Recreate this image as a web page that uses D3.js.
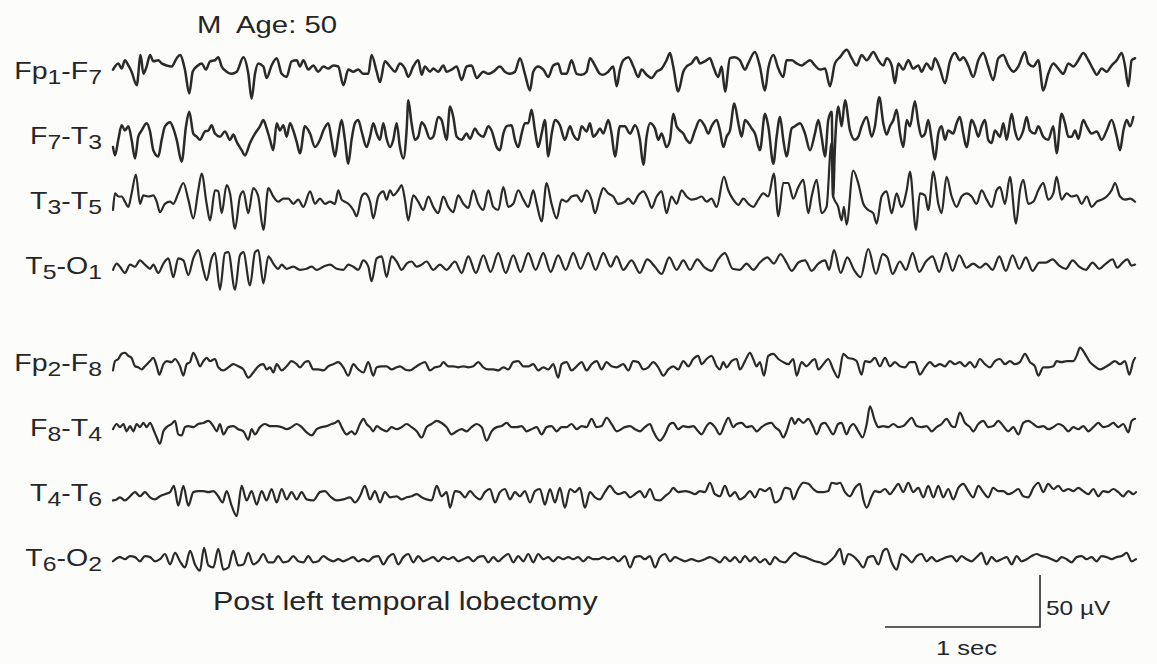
<!DOCTYPE html>
<html>
<head>
<meta charset="utf-8">
<script src="https://cdn.jsdelivr.net/npm/d3@7"></script>
<style>
  html, body { margin: 0; padding: 0; background: #fcfcfb; }
  svg { display: block; }
  text { font-family: "Liberation Sans", Arial, Helvetica, sans-serif; fill: #262626; white-space: pre; }
</style>
</head>
<body>
<svg id="eeg" width="1157" height="664"></svg>
<script>
// Bipolar montage, left chain then right chain. Each trace is a list of
// turning points: [time in ms, amplitude in µV].
const channelNames = ["Fp1-F7", "F7-T3", "T3-T5", "T5-O1", "Fp2-F8", "F8-T4", "T4-T6", "T6-O2"];
const channelLabelParts = [
  ["Fp", "1", "-F", "7"], ["F", "7", "-T", "3"], ["T", "3", "-T", "5"], ["T", "5", "-O", "1"],
  ["Fp", "2", "-F", "8"], ["F", "8", "-T", "4"], ["T", "4", "-T", "6"], ["T", "6", "-O", "2"]
];
const channelSlots = [0, 1, 2, 3, 4.5, 5.5, 6.5, 7.5];

const fp1F7 = [[0,2],[34,8],[56,3],[77,11],[99,6],[120,0],[153,-13],[178,16],[196,-2],[217,5],[239,16],[260,10],[292,11],[314,8],[346,6],[378,5],[411,13],[432,16],[464,2],[492,-21],[514,0],[540,5],[572,8],[600,2],[626,10],[658,11],[679,14],[701,5],[733,0],[765,-2],[798,0],[841,14],[873,-2],[894,-26],[916,-2],[937,8],[970,5],[991,-6],[1023,6],[1056,13],[1088,-2],[1120,-5],[1152,10],[1185,11],[1206,5],[1228,11],[1260,2],[1292,6],[1324,0],[1357,5],[1389,3],[1421,6],[1453,5],[1486,-13],[1518,2],[1550,0],[1582,2],[1615,-2],[1647,-2],[1668,16],[1701,0],[1722,-10],[1754,10],[1787,5],[1819,0],[1851,8],[1883,3],[1905,-5],[1937,5],[1969,11],[1991,-3],[2012,5],[2045,0],[2066,3],[2098,0],[2131,6],[2152,0],[2184,2],[2217,5],[2249,-8],[2281,5],[2313,6],[2346,-6],[2389,0],[2421,-2],[2453,0],[2496,5],[2528,0],[2561,-2],[2593,0],[2625,13],[2657,-2],[2690,-18],[2711,0],[2743,5],[2776,2],[2808,-5],[2840,6],[2872,8],[2894,-2],[2926,-2],[2958,11],[2991,-2],[3023,-3],[3055,0],[3077,13],[3109,6],[3141,-2],[3163,-3],[3195,0],[3227,5],[3249,-14],[3270,2],
  [3292,11],[3325,14],[3357,5],[3388,-5],[3410,2],[3442,-3],[3474,-6],[3507,0],[3539,3],[3571,11],[3593,18],[3614,5],[3646,-19],[3679,0],[3700,5],[3732,8],[3764,14],[3786,8],[3818,10],[3851,13],[3872,5],[3904,-5],[3926,5],[3948,-19],[3980,13],[4012,14],[4044,11],[4077,2],[4098,8],[4141,19],[4173,5],[4206,-18],[4227,3],[4260,16],[4292,3],[4324,-5],[4345,11],[4378,11],[4410,8],[4442,6],[4464,8],[4496,11],[4528,6],[4560,2],[4593,3],[4625,-14],[4657,8],[4690,14],[4733,21],[4765,13],[4797,6],[4829,16],[4862,11],[4905,19],[4937,11],[4969,6],[4991,13],[5023,6],[5044,-11],[5066,8],[5098,2],[5130,11],[5162,3],[5195,6],[5216,0],[5248,8],[5281,2],[5302,13],[5334,3],[5367,-11],[5399,10],[5431,18],[5463,11],[5485,14],[5517,6],[5549,-5],[5582,11],[5614,18],[5646,5],[5678,-8],[5711,13],[5743,16],[5775,6],[5808,0],[5840,5],[5883,19],[5904,8],[5937,5],[5969,11],[6001,-18],[6033,-2],[6066,8],[6098,3],[6130,-2],[6163,8],[6195,5],[6227,11],[6259,18],[6292,11],[6324,2],[6346,-3],[6378,3],[6410,0],[6442,6],[6475,11],[6507,18],[6528,6],[6550,-14],[6571,11],[6593,13]];

const f7T3 = [[0,-10],[13,-18],[34,-3],[56,11],[77,6],[99,10],[120,-3],[142,-21],[163,0],[185,6],[217,13],[239,5],[260,-13],[292,-19],[314,-3],[335,10],[368,14],[389,8],[411,-3],[443,-24],[471,10],[492,24],[518,3],[540,0],[561,-3],[593,5],[615,6],[636,11],[658,3],[690,0],[722,5],[755,-3],[776,2],[798,-5],[830,-13],[851,-18],[884,-6],[916,3],[948,10],[970,16],[991,8],[1013,-3],[1034,-13],[1056,13],[1077,6],[1099,11],[1120,0],[1142,13],[1163,6],[1185,-5],[1206,-16],[1238,10],[1271,3],[1303,-10],[1335,-3],[1357,6],[1389,13],[1410,-3],[1432,-19],[1453,0],[1475,16],[1496,-3],[1518,-26],[1539,-3],[1561,13],[1582,16],[1604,5],[1636,-10],[1658,0],[1679,13],[1701,3],[1722,-3],[1744,13],[1765,-2],[1787,-10],[1808,-3],[1830,13],[1851,-10],[1873,-21],[1894,6],[1905,35],[1926,13],[1948,-3],[1969,0],[1991,14],[2012,10],[2045,-2],[2066,0],[2098,19],[2120,16],[2152,-3],[2174,29],[2195,19],[2217,0],[2249,-3],[2281,3],[2303,-2],[2335,8],[2356,3],[2389,0],[2421,10],[2442,6],[2475,-10],[2496,-13],[2518,3],[2539,10],[2571,11],[2593,-3],[2614,-10],[2636,3],[2657,13],[2679,13],[2700,26],[2722,6],[2743,-10],[2765,3],[2786,16],[2808,-19],[2829,2],[2851,16],[2883,11],[2915,-3],[2948,10],[2969,2],[3001,-3],[3023,10],[3055,5],[3077,13],[3098,0],[3120,3],[3141,8],[3163,3],[3195,16],[3216,3],[3238,-19],[3270,10],
  [3302,10],[3335,3],[3367,11],[3399,-3],[3421,-27],[3442,0],[3464,13],[3496,8],[3517,-3],[3539,3],[3571,-10],[3593,-3],[3614,22],[3636,10],[3657,6],[3679,3],[3700,-3],[3722,-6],[3754,6],[3786,16],[3818,10],[3840,3],[3861,10],[3894,16],[3915,6],[3937,-10],[3958,0],[3980,6],[4008,32],[4034,13],[4055,0],[4077,16],[4098,13],[4120,8],[4141,3],[4173,-13],[4206,22],[4227,10],[4260,-26],[4281,0],[4303,19],[4324,-3],[4345,-19],[4378,8],[4399,10],[4432,13],[4464,3],[4496,-13],[4528,3],[4550,16],[4571,0],[4593,-19],[4614,16],[4636,24],[4645,-58],[4657,-10],[4679,29],[4700,10],[4722,35],[4754,6],[4786,-3],[4808,0],[4829,10],[4862,19],[4894,0],[4915,10],[4943,38],[4969,13],[4990,2],[5012,10],[5034,16],[5055,26],[5077,3],[5098,-10],[5120,16],[5141,10],[5173,34],[5195,13],[5216,0],[5238,3],[5259,16],[5281,-3],[5302,-22],[5324,3],[5345,10],[5367,-3],[5388,6],[5420,3],[5442,13],[5463,19],[5485,3],[5506,-10],[5539,16],[5560,10],[5582,0],[5603,10],[5625,16],[5646,-3],[5668,-6],[5689,6],[5722,0],[5743,13],[5765,-3],[5797,22],[5818,6],[5840,-3],[5872,6],[5894,19],[5915,6],[5947,3],[5969,10],[6001,0],[6033,-3],[6066,10],[6087,-16],[6119,22],[6141,13],[6163,0],[6184,0],[6206,6],[6227,-2],[6259,16],[6281,10],[6313,3],[6346,5],[6378,-3],[6410,6],[6442,16],[6475,0],[6496,-13],[6518,6],[6539,16],[6561,10],[6582,19]];

const t3T5 = [[0,-8],[13,8],[34,5],[56,5],[77,0],[99,-5],[120,8],[148,26],[174,-2],[196,6],[228,5],[260,6],[282,0],[303,-10],[335,-2],[368,0],[389,-2],[421,8],[454,18],[486,2],[518,-16],[550,11],[572,27],[604,-2],[626,-18],[658,11],[679,10],[701,-11],[733,16],[755,8],[787,-26],[819,5],[841,10],[873,-11],[905,13],[937,5],[970,-27],[1002,13],[1034,5],[1066,0],[1099,3],[1131,3],[1163,-2],[1195,2],[1228,-5],[1271,10],[1303,-2],[1335,3],[1367,-2],[1400,0],[1432,-2],[1453,11],[1475,2],[1496,0],[1518,-2],[1550,-8],[1572,-14],[1604,5],[1625,8],[1658,0],[1679,-16],[1711,5],[1744,10],[1765,2],[1787,11],[1808,6],[1840,11],[1862,16],[1883,2],[1905,-18],[1937,6],[1969,0],[2002,-8],[2034,5],[2066,-5],[2098,-11],[2131,5],[2163,-5],[2195,-10],[2227,6],[2260,-2],[2292,-6],[2324,11],[2356,-2],[2389,-8],[2421,11],[2453,-5],[2485,-8],[2518,14],[2550,-5],[2582,-2],[2614,11],[2647,2],[2679,-5],[2711,11],[2733,-2],[2765,-19],[2797,18],[2829,-2],[2862,-16],[2894,2],[2926,0],[2958,5],[2991,6],[3023,0],[3055,11],[3087,2],[3109,-11],[3141,5],[3163,13],[3195,8],[3227,5],[3259,-2],
  [3302,0],[3324,3],[3356,-2],[3388,6],[3421,10],[3453,2],[3474,-6],[3507,5],[3539,10],[3571,-11],[3603,5],[3636,-2],[3668,11],[3700,5],[3732,2],[3765,3],[3797,5],[3829,0],[3861,3],[3894,-5],[3941,24],[3969,11],[4001,2],[4034,-3],[4066,3],[4098,-2],[4130,-5],[4163,2],[4195,8],[4227,5],[4263,27],[4292,-14],[4324,18],[4356,18],[4388,3],[4421,14],[4453,21],[4485,-11],[4507,5],[4539,21],[4571,-11],[4603,-5],[4634,56],[4646,5],[4678,-5],[4700,-18],[4715,-5],[4732,-22],[4775,30],[4807,18],[4840,-2],[4872,-8],[4904,-11],[4926,-21],[4958,5],[4990,10],[5023,-11],[5055,8],[5087,-5],[5120,11],[5141,29],[5180,-27],[5205,8],[5238,6],[5259,-8],[5292,29],[5324,-2],[5345,-11],[5377,24],[5410,5],[5442,-5],[5474,5],[5506,8],[5539,5],[5571,-2],[5603,11],[5636,2],[5668,-5],[5700,11],[5722,14],[5754,-2],[5786,24],[5825,-21],[5851,11],[5872,21],[5904,-2],[5937,0],[5969,11],[6001,18],[6033,2],[6066,8],[6087,24],[6119,2],[6152,8],[6184,5],[6216,6],[6249,-2],[6281,5],[6313,-5],[6346,0],[6378,2],[6410,5],[6442,11],[6464,18],[6496,5],[6528,2],[6561,3],[6593,0]];

const t5O1 = [[0,-3],[24,3],[45,0],[77,-6],[110,2],[142,0],[174,6],[206,2],[239,-2],[260,2],[292,-6],[325,3],[357,8],[389,-10],[421,8],[454,6],[486,-8],[518,8],[550,16],[583,-3],[604,-13],[636,8],[658,13],[690,-22],[722,13],[744,14],[787,-22],[819,11],[841,14],[884,-18],[916,14],[937,16],[970,-16],[1002,10],[1034,3],[1066,-2],[1088,2],[1120,-2],[1163,0],[1206,-3],[1249,-2],[1281,0],[1314,-3],[1357,0],[1400,2],[1443,-2],[1486,-3],[1518,2],[1550,0],[1582,-3],[1615,6],[1647,0],[1668,-14],[1701,8],[1733,10],[1765,-10],[1797,10],[1830,5],[1862,-3],[1894,3],[1926,5],[1959,0],[1991,2],[2023,5],[2066,-3],[2109,2],[2152,-3],[2206,5],[2249,-6],[2292,10],[2341,-6],[2389,11],[2436,-5],[2485,13],[2533,-6],[2582,11],[2629,-5],[2679,13],[2726,-3],[2776,13],[2823,-5],[2872,11],[2920,-3],[2969,13],[3016,-2],[3066,13],[3113,-3],[3163,13],[3210,0],[3249,10],
  [3292,-3],[3345,6],[3399,-6],[3446,7],[3496,0],[3539,-7],[3588,9],[3636,-3],[3679,6],[3722,-3],[3769,7],[3818,-1],[3861,-4],[3904,7],[3947,13],[3997,-2],[4044,-3],[4087,3],[4130,-3],[4173,4],[4221,9],[4263,3],[4306,12],[4345,4],[4378,-4],[4421,4],[4464,6],[4507,-4],[4550,3],[4593,6],[4620,-3],[4651,16],[4694,-6],[4737,9],[4780,-3],[4823,-10],[4872,17],[4922,-7],[4965,12],[4995,9],[5029,-7],[5076,5],[5115,-3],[5158,13],[5201,-5],[5244,5],[5287,10],[5330,-5],[5373,13],[5416,-4],[5459,11],[5506,-1],[5549,3],[5592,-1],[5631,3],[5674,-3],[5717,10],[5760,-4],[5803,11],[5846,-2],[5889,9],[5932,-4],[5975,4],[6018,4],[6061,7],[6104,1],[6147,-2],[6190,6],[6233,0],[6276,-3],[6319,4],[6362,-2],[6405,3],[6448,7],[6478,-1],[6513,4],[6543,7],[6571,1],[6593,2]];

const fp2F8 = [[0,-6],[13,3],[34,5],[56,10],[77,11],[99,8],[120,6],[142,-2],[163,-3],[185,-5],[206,-2],[239,3],[260,6],[282,-2],[299,-10],[325,0],[346,3],[378,2],[400,5],[432,-2],[454,-11],[475,0],[497,2],[518,11],[540,5],[561,-2],[583,3],[604,6],[626,3],[658,5],[679,-3],[712,-6],[744,-3],[776,0],[808,-2],[841,-5],[873,-13],[905,-8],[937,-2],[970,0],[991,-5],[1013,-3],[1034,-8],[1056,0],[1088,-6],[1120,-2],[1152,3],[1185,0],[1206,-3],[1238,2],[1260,3],[1292,-5],[1324,-5],[1357,-6],[1389,-2],[1421,0],[1453,2],[1486,-3],[1518,-11],[1550,0],[1582,-5],[1615,-8],[1647,2],[1679,-11],[1701,-3],[1733,-2],[1765,-2],[1797,-5],[1830,-3],[1851,-2],[1883,-5],[1916,-6],[1948,-3],[1980,0],[2012,2],[2045,-6],[2077,-3],[2109,-2],[2131,2],[2163,-2],[2195,-2],[2227,-3],[2260,-2],[2292,-3],[2324,-2],[2356,2],[2389,-3],[2421,-5],[2453,-5],[2485,-6],[2518,-3],[2550,-5],[2582,2],[2614,3],[2647,-2],[2679,-2],[2711,0],[2743,-6],[2776,-3],[2808,-5],[2840,0],[2872,-13],[2894,0],[2926,2],[2958,-6],[2991,-2],[3023,2],[3055,-6],[3087,0],[3120,3],[3152,-5],[3184,2],[3216,-2],[3249,-3],
  [3292,0],[3324,-6],[3356,3],[3388,2],[3421,-5],[3453,-3],[3485,2],[3517,-3],[3550,-11],[3582,-5],[3614,-2],[3646,-5],[3679,3],[3711,-2],[3743,5],[3775,8],[3797,0],[3829,5],[3861,8],[3894,-2],[3915,-5],[3937,2],[3958,-3],[3990,3],[4023,5],[4044,-5],[4077,3],[4109,11],[4130,5],[4152,-2],[4173,2],[4199,-11],[4227,8],[4259,10],[4292,5],[4324,2],[4356,0],[4388,5],[4410,-11],[4442,2],[4474,-2],[4507,3],[4528,5],[4550,-5],[4582,0],[4614,5],[4646,-5],[4678,-13],[4711,10],[4743,6],[4775,5],[4797,3],[4829,-10],[4851,3],[4883,2],[4915,6],[4947,-2],[4980,6],[5012,-2],[5044,2],[5077,-2],[5109,-3],[5141,2],[5173,2],[5205,-10],[5238,-3],[5270,2],[5302,-2],[5334,0],[5367,-2],[5399,3],[5431,0],[5463,2],[5496,-2],[5528,2],[5560,-3],[5592,5],[5625,0],[5657,-3],[5689,3],[5721,5],[5754,0],[5786,3],[5818,0],[5850,2],[5883,10],[5915,2],[5947,-2],[5969,-11],[6001,-3],[6033,-3],[6066,-2],[6087,3],[6119,2],[6152,3],[6195,3],[6216,8],[6238,16],[6270,10],[6302,2],[6334,-2],[6367,-5],[6399,-3],[6431,0],[6463,3],[6496,0],[6528,3],[6556,-10],[6582,3],[6593,6]];

const f8T4 = [[0,0],[24,5],[45,2],[67,5],[88,-2],[110,3],[131,-2],[153,5],[174,2],[196,6],[217,2],[239,6],[260,0],[282,-8],[303,-14],[325,-2],[346,2],[378,5],[400,8],[421,-5],[443,-6],[464,2],[486,3],[518,2],[550,5],[583,6],[615,8],[647,3],[669,-2],[690,5],[712,-5],[744,2],[776,3],[808,0],[841,-2],[873,-10],[894,0],[916,-5],[948,2],[980,5],[1013,3],[1056,3],[1088,2],[1120,0],[1152,2],[1185,5],[1217,2],[1249,-3],[1281,-6],[1314,0],[1346,2],[1378,3],[1410,5],[1432,6],[1453,8],[1475,2],[1507,-5],[1539,-2],[1561,-5],[1593,5],[1615,10],[1636,5],[1658,2],[1679,-2],[1701,3],[1733,0],[1765,-2],[1797,2],[1830,0],[1862,2],[1894,5],[1926,2],[1959,-2],[1991,-8],[2023,2],[2055,5],[2088,8],[2120,6],[2152,2],[2184,-5],[2217,-2],[2249,0],[2281,-2],[2313,2],[2346,5],[2378,2],[2410,-11],[2442,-2],[2475,2],[2507,3],[2539,6],[2571,2],[2604,2],[2636,3],[2668,-2],[2700,0],[2733,2],[2765,-5],[2797,2],[2829,3],[2862,-2],[2894,2],[2926,2],[2958,5],[2991,0],[3023,3],[3055,2],[3087,10],[3120,2],[3152,3],[3184,11],[3216,5],[3249,-2],
  [3302,2],[3335,3],[3367,0],[3399,-2],[3431,2],[3464,5],[3485,-2],[3507,-8],[3528,-11],[3560,-5],[3593,5],[3614,6],[3646,0],[3679,3],[3711,2],[3743,3],[3775,-2],[3797,-5],[3829,3],[3851,6],[3883,2],[3915,-5],[3947,5],[3969,11],[4001,2],[4023,5],[4055,6],[4087,2],[4120,3],[4152,-2],[4184,2],[4216,5],[4248,6],[4270,2],[4302,-2],[4324,-8],[4345,-2],[4378,11],[4399,5],[4421,10],[4453,6],[4485,10],[4517,2],[4539,-5],[4571,5],[4593,6],[4614,2],[4646,-5],[4678,5],[4700,6],[4732,-5],[4754,2],[4775,5],[4808,-2],[4835,-8],[4862,5],[4883,22],[4915,8],[4937,2],[4969,3],[5001,2],[5034,5],[5066,2],[5098,3],[5130,8],[5152,11],[5184,3],[5216,2],[5248,3],[5281,-2],[5313,2],[5345,5],[5377,10],[5410,3],[5431,2],[5463,16],[5496,6],[5528,2],[5549,-2],[5582,5],[5614,8],[5646,2],[5678,3],[5711,8],[5743,3],[5775,-2],[5808,2],[5840,-5],[5872,6],[5904,8],[5937,5],[5969,2],[6001,3],[6033,0],[6066,2],[6098,5],[6130,3],[6163,-2],[6195,2],[6227,0],[6259,3],[6292,-2],[6324,2],[6356,6],[6388,2],[6420,3],[6453,6],[6485,2],[6517,5],[6550,-3],[6571,8],[6593,10]];

const t4T6 = [[0,-6],[24,-5],[45,-3],[77,-6],[110,-2],[142,2],[174,-2],[206,2],[239,-3],[271,-5],[303,-2],[335,0],[368,2],[393,8],[421,-11],[454,8],[486,-11],[518,2],[550,3],[583,3],[615,2],[647,3],[679,-2],[707,-8],[733,3],[765,-11],[798,-21],[830,8],[862,-6],[894,3],[927,-10],[959,3],[991,-6],[1023,5],[1056,-8],[1088,5],[1120,-5],[1152,2],[1185,-5],[1217,2],[1249,-5],[1292,-6],[1335,2],[1367,3],[1400,-2],[1443,-6],[1486,-5],[1529,-3],[1561,-8],[1593,-2],[1625,8],[1658,-5],[1690,3],[1722,-8],[1754,2],[1787,-3],[1830,-2],[1862,-5],[1894,-3],[1926,-2],[1959,0],[1991,-3],[2023,-5],[2055,-6],[2088,8],[2120,-2],[2152,2],[2174,-13],[2206,3],[2238,2],[2270,-3],[2303,3],[2335,-2],[2367,-5],[2399,2],[2432,5],[2464,-8],[2496,2],[2528,5],[2561,-5],[2593,2],[2625,-2],[2657,3],[2690,-8],[2722,3],[2754,5],[2786,-10],[2819,5],[2851,-8],[2883,6],[2915,-13],[2948,5],[2980,2],[3012,6],[3044,-13],[3077,2],[3109,-3],[3141,-5],[3173,2],[3206,8],[3238,2],[3259,0],
  [3302,2],[3335,-3],[3367,0],[3399,3],[3431,-3],[3464,5],[3496,-5],[3528,-6],[3560,-2],[3593,2],[3614,6],[3646,2],[3689,3],[3722,2],[3754,0],[3786,3],[3818,2],[3851,11],[3883,0],[3915,-2],[3947,8],[3980,-2],[4012,2],[4044,-5],[4077,-2],[4109,3],[4141,-3],[4173,5],[4206,3],[4238,6],[4270,-8],[4303,-5],[4335,6],[4367,5],[4389,-5],[4421,5],[4453,11],[4485,10],[4517,5],[4550,2],[4582,2],[4614,3],[4636,11],[4668,10],[4690,11],[4722,2],[4754,-2],[4786,6],[4818,10],[4840,-5],[4862,-13],[4894,-2],[4915,3],[4947,2],[4980,5],[5012,0],[5044,6],[5066,10],[5098,2],[5130,11],[5162,2],[5195,6],[5227,-3],[5259,8],[5292,-3],[5324,8],[5356,-3],[5388,5],[5420,-5],[5453,6],[5485,10],[5517,3],[5549,-3],[5582,8],[5614,2],[5646,-3],[5678,6],[5711,3],[5743,3],[5775,0],[5808,2],[5840,5],[5872,-2],[5904,-3],[5937,6],[5969,11],[6001,2],[6033,10],[6066,5],[6098,8],[6130,3],[6163,5],[6195,3],[6227,6],[6259,3],[6292,0],[6324,5],[6356,-2],[6388,3],[6420,2],[6453,5],[6485,2],[6517,-2],[6550,3],[6582,0],[6599,2]];

const t6O2 = [[0,-2],[45,2],[77,0],[110,3],[142,2],[174,-2],[206,3],[239,2],[271,-2],[303,0],[335,5],[368,-5],[400,6],[432,-2],[464,-8],[497,8],[529,-5],[561,-11],[587,11],[615,-6],[647,-8],[679,10],[712,-10],[744,-8],[776,8],[808,-6],[841,-5],[873,6],[905,-5],[937,-2],[970,5],[1002,-3],[1034,-3],[1066,3],[1099,-3],[1131,-2],[1163,3],[1195,-2],[1228,-3],[1260,3],[1292,-3],[1324,-2],[1357,3],[1389,0],[1421,-2],[1453,0],[1486,-2],[1518,0],[1550,2],[1582,-2],[1615,0],[1647,-2],[1679,2],[1711,3],[1744,-5],[1776,2],[1808,5],[1840,-5],[1873,2],[1905,5],[1937,-3],[1969,3],[2002,-2],[2034,0],[2066,2],[2098,-2],[2131,2],[2163,0],[2195,2],[2227,-2],[2260,0],[2292,2],[2324,-2],[2356,2],[2389,3],[2421,-3],[2453,2],[2485,-2],[2518,2],[2550,5],[2582,-3],[2614,3],[2647,-2],[2679,5],[2711,-3],[2743,5],[2776,0],[2808,2],[2840,-2],[2872,2],[2905,0],[2937,2],[2969,0],[3001,2],[3034,-2],[3066,2],[3098,0],[3130,0],[3163,2],[3195,0],[3227,2],[3259,-2],
  [3302,3],[3335,-8],[3367,2],[3399,3],[3431,0],[3464,3],[3496,-8],[3528,2],[3560,5],[3593,-2],[3625,2],[3657,0],[3689,-2],[3732,0],[3775,-2],[3818,0],[3851,2],[3883,0],[3915,-3],[3947,2],[3980,-2],[4012,2],[4044,-3],[4077,3],[4109,-2],[4141,2],[4173,-3],[4206,0],[4238,-5],[4270,2],[4303,-2],[4335,-3],[4367,2],[4399,6],[4432,3],[4464,2],[4496,0],[4528,-2],[4560,-3],[4593,-5],[4625,-2],[4657,3],[4690,10],[4715,-5],[4743,5],[4775,3],[4808,-2],[4840,-8],[4872,2],[4904,3],[4937,-5],[4969,8],[4991,10],[5023,-3],[5055,-10],[5087,5],[5119,2],[5152,-3],[5184,3],[5216,5],[5248,-2],[5281,2],[5313,-2],[5345,0],[5377,2],[5410,3],[5442,-2],[5474,3],[5506,0],[5539,-2],[5571,2],[5603,6],[5635,-5],[5668,2],[5700,-2],[5732,0],[5765,2],[5797,-5],[5829,3],[5861,-2],[5894,0],[5926,3],[5958,5],[5990,3],[6023,2],[6055,0],[6087,-2],[6119,2],[6152,0],[6184,-3],[6216,2],[6248,3],[6280,0],[6313,2],[6345,-2],[6377,3],[6410,2],[6442,0],[6474,2],[6507,3],[6539,6],[6571,-2],[6599,0]];

const traces = [fp1F7, f7T3, t3T5, t5O1, fp2F8, f8T4, t4T6, t6O2];

const titleText = "M  Age: 50";
const noteText = "Post left temporal lobectomy";
const calibration = { seconds: 1, microvolts: 50, timeLabel: "1 sec", voltLabel: "50 µV" };

// ---- layout ----
const svg = d3.select("#eeg");
const W = 1157, H = 664;
const ink = "#2a2a2a";
const pxPerUv = 52 / 50;
const textStretch = 1.22;

const x = d3.scaleLinear().domain([0, 6625]).range([113, 1140]);
const slotY = d3.scaleLinear().domain([0, 1]).range([71.7, 136.7]);
const uv = d3.scaleLinear().domain([0, 1]).range([0, -pxPerUv]);

svg.append("rect").attr("width", W).attr("height", H).attr("fill", "#fcfcfb");

const line = d3.line()
  .x(d => x(d[0]))
  .y(d => uv(d[1]))
  .curve(d3.curveMonotoneX);

const rows = svg.selectAll("g.channel")
  .data(channelNames.map((name, i) => ({ name, parts: channelLabelParts[i], slot: channelSlots[i], pts: traces[i] })))
  .join("g")
  .attr("class", "channel")
  .attr("transform", d => `translate(0,${slotY(d.slot)})`);

rows.append("path")
  .attr("d", d => line(d.pts))
  .attr("fill", "none")
  .attr("stroke", ink)
  .attr("stroke-width", d => d.slot < 2 ? 2.5 : 2.2)
  .attr("stroke-linejoin", "round")
  .attr("stroke-linecap", "round");

// Channel names with subscript electrode numbers
const labels = rows.append("text")
  .attr("transform", `translate(102,7) scale(1.24,1)`)
  .attr("text-anchor", "end")
  .style("font-size", "23px");
labels.each(function (d) {
  const t = d3.select(this);
  d.parts.forEach((p, k) => {
    const sub = k % 2 === 1;
    t.append("tspan")
      .text(p)
      .attr("dy", sub ? 5 : (k === 0 ? 0 : -5))
      .style("font-size", sub ? "20px" : "23px");
  });
});

function stretchedText(str, tx, ty, size, anchor) {
  svg.append("text")
    .attr("transform", `translate(${tx},${ty}) scale(${textStretch},1)`)
    .attr("text-anchor", anchor || "start")
    .attr("xml:space", "preserve")
    .style("font-size", size + "px")
    .text(str);
}

stretchedText(titleText, 197, 33, 24);
stretchedText(noteText, 213, 610, 25);

// Calibration bar: 1 s horizontally, 50 µV vertically
const barEnd = 5980;
const barX0 = x(barEnd - calibration.seconds * 1000);
const barX1 = x(barEnd);
const barY = 627;
svg.append("path")
  .attr("d", `M${barX0},${barY}H${barX1}V${barY - calibration.microvolts * pxPerUv}`)
  .attr("fill", "none")
  .attr("stroke", ink)
  .attr("stroke-width", 1.6);

stretchedText(calibration.voltLabel, barX1 + 6, 615, 20);
stretchedText(calibration.timeLabel, (barX0 + barX1) / 2 + 4, 655, 21, "middle");
</script>
</body>
</html>
